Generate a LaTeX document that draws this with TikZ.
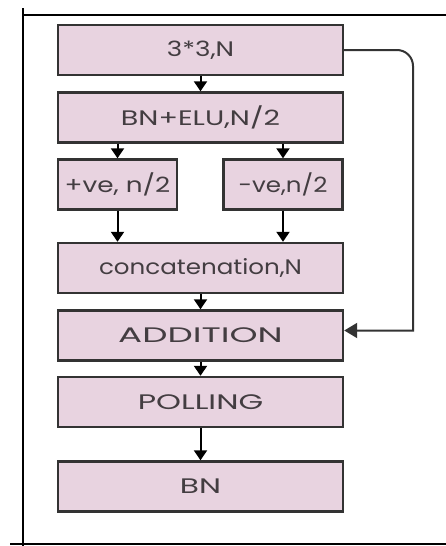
\documentclass[tikz,border=0pt]{standalone}
\usepackage{fontspec}
\setmainfont{Poppins}
\usetikzlibrary{arrows.meta,calc}
\definecolor{boxfill}{HTML}{E8D3E0}
\definecolor{boxline}{HTML}{333333}
\definecolor{boxtext}{HTML}{433D41}
% label font: fixed size, per-label horizontal stretch
\newcommand\stagefont[1]{\fontsize{21}{25}\selectfont\addfontfeature{FakeStretch=#1}}
\tikzset{
  stage/.style={draw=boxline, fill=boxfill, line width=2.4pt, rectangle,
    minimum height=50pt, inner sep=0pt, text=boxtext},
  wide/.style={stage, minimum width=285pt},
  half/.style={stage, minimum width=119pt},
  wd/.style={font=\stagefont{#1}},
  flow/.style={draw=black, line width=2pt, -{Triangle[width=13pt,length=10pt]}},
  frame/.style={draw=black, line width=2.6pt}
}
\begin{document}
\begin{tikzpicture}[x=1pt,y=-1pt]
\useasboundingbox (0,0) rectangle (446,546);
% outer frame lines
\draw[frame] (23,8) -- (23,546);
\draw[frame] (22,15) -- (446,15);
\draw[frame] (10,544) -- (446,544);
% stages
\node[wide, wd=1.25] (conv) at (200.5,50) {3*3,N};
\node[wide, wd=1.36] (bnelu) at (200.5,117.5) {BN+ELU,N/2};
\node[half, wd=1.25] (pos) at (117.5,184.5) {+ve, n/2};
\node[half, wd=1.17] (neg) at (283,184.5) {-ve,n/2};
\node[wide, wd=1.17] (cat) at (200.5,268) {concatenation,N};
\node[wide, wd=1.70] (add) at (200.5,335.5) {ADDITION};
\node[wide, wd=1.51] (pool) at (200.5,402) {POLLING};
\node[wide, wd=1.49] (bn) at (200.5,486.5) {BN};
% main flow
\draw[flow] (conv) -- (bnelu);
\draw[flow] (bnelu.south -| pos) -- (pos);
\draw[flow] (bnelu.south -| neg) -- (neg);
\draw[flow] (pos) -- (cat.north -| pos);
\draw[flow] (neg) -- (cat.north -| neg);
\draw[flow] (cat) -- (add);
\draw[flow] (add) -- (pool);
\draw[flow] (pool) -- (bn);
% skip connection
\coordinate (rt) at (413,0);
\coordinate (addin) at ($(add.east)+(0,-5)$);
\draw[flow, draw=boxline, line width=2pt, -{Triangle[width=15pt,length=13pt]}]
  (conv.east) [rounded corners=16pt] -- (conv.east -| rt) [sharp corners] -- (rt |- addin) -- (addin);
\end{tikzpicture}
\end{document}
